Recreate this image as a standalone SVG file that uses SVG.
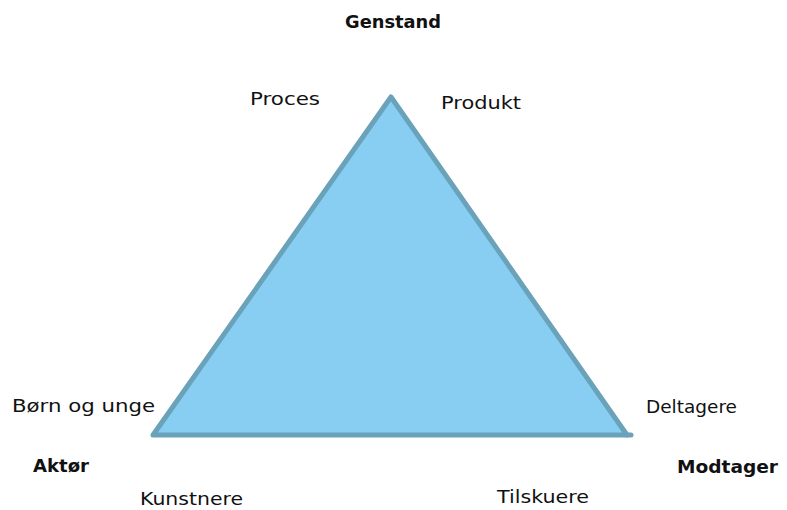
<svg xmlns="http://www.w3.org/2000/svg" width="787" height="510" viewBox="0 0 787 510">
<style>
.t{font-family:"DejaVu Sans","Liberation Sans",sans-serif;font-size:18px;fill:#111}
.b{font-weight:bold}
.tri{fill:#87cef2;stroke:#6aa2ba;stroke-width:5;stroke-linejoin:round}
</style>
<rect width="787" height="510" fill="#fff"/>
<g id="connectors">
<path class="tri" d="M391,97 L627,435 L153,435 Z"/>
<line x1="627" y1="435" x2="631" y2="435" stroke="#6aa2ba" stroke-width="5" stroke-linecap="round"/>
</g>
<g id="genstand"><text class="t b" x="345" y="28" textLength="96" lengthAdjust="spacingAndGlyphs">Genstand</text></g>
<g id="proces"><text class="t" x="250" y="105" textLength="70" lengthAdjust="spacingAndGlyphs">Proces</text></g>
<g id="produkt"><text class="t" x="441" y="109" textLength="80" lengthAdjust="spacingAndGlyphs">Produkt</text></g>
<g id="born"><text class="t" x="12" y="412" textLength="143" lengthAdjust="spacingAndGlyphs">Børn og unge</text></g>
<g id="deltagere"><text class="t" x="646" y="413" textLength="91" lengthAdjust="spacingAndGlyphs">Deltagere</text></g>
<g id="aktor"><text class="t b" x="33" y="472" textLength="56" lengthAdjust="spacingAndGlyphs">Aktør</text></g>
<g id="modtager"><text class="t b" x="677" y="473" textLength="101" lengthAdjust="spacingAndGlyphs">Modtager</text></g>
<g id="kunstnere"><text class="t" x="140" y="505" textLength="103" lengthAdjust="spacingAndGlyphs">Kunstnere</text></g>
<g id="tilskuere"><text class="t" x="497" y="503" textLength="92" lengthAdjust="spacingAndGlyphs">Tilskuere</text></g>
</svg>
